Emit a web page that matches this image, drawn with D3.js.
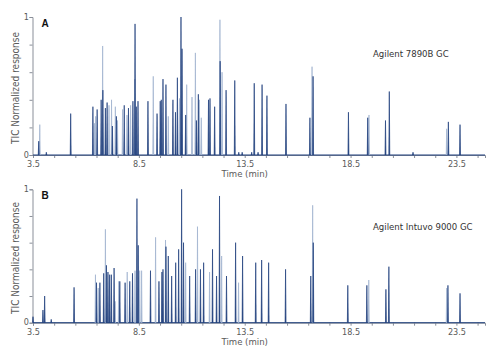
<!DOCTYPE html>
<html>
<head>
<meta charset="utf-8">
<script src="https://cdn.jsdelivr.net/npm/d3@7"></script>
<style>
  body { margin: 0; background: #fff; }
  svg { display: block; }
</style>
</head>
<body>
<div id="chart"></div>
<script>
// x axis labels (min) and panel texts
const timeTicks = [3.5, 8.5, 13.5, 18.5, 23.5];
const panelLabels = ["A", "B"];
const instruments = ["Agilent 7890B GC", "Agilent Intuvo 9000 GC"];

// peaks: [retention time (min), normalized response, shade 0 = dark / 1 = light]
const peaksA = [
  [3.77, 0.10, 0], [3.82, 0.22, 1], [4.13, 0.02, 0], [5.28, 0.30, 0],
  [6.33, 0.35, 0], [6.40, 0.23, 1], [6.46, 0.28, 1], [6.53, 0.33, 0],
  [6.72, 0.40, 0], [6.79, 0.79, 1], [6.80, 0.47, 0], [6.92, 0.34, 0],
  [7.00, 0.38, 0], [7.09, 0.36, 1], [7.21, 0.40, 1], [7.25, 0.21, 0],
  [7.39, 0.35, 1], [7.44, 0.28, 0], [7.49, 0.25, 1], [7.73, 0.33, 1],
  [7.81, 0.36, 0], [7.94, 0.29, 1], [8.01, 0.34, 0], [8.11, 0.36, 1],
  [8.22, 0.39, 0], [8.31, 0.55, 1], [8.32, 0.95, 0], [8.38, 0.35, 0],
  [8.46, 0.39, 0], [8.93, 0.39, 0], [9.18, 0.57, 1], [9.36, 0.30, 0],
  [9.51, 0.39, 0], [9.56, 0.40, 0], [9.64, 0.55, 0], [9.78, 0.51, 0],
  [9.89, 0.28, 1], [10.11, 0.40, 0], [10.23, 0.31, 0], [10.32, 0.56, 0],
  [10.42, 0.41, 1], [10.49, 1.00, 0], [10.54, 0.77, 0], [10.71, 0.29, 0],
  [10.76, 0.51, 1], [11.01, 0.42, 1], [11.17, 0.74, 1], [11.22, 0.25, 0],
  [11.31, 0.44, 0], [11.36, 0.40, 1], [11.45, 0.27, 1], [11.79, 0.40, 0],
  [11.86, 0.41, 0], [12.08, 0.35, 0], [12.33, 0.98, 1], [12.34, 0.68, 0],
  [12.43, 0.60, 1], [12.62, 0.47, 0], [13.03, 0.54, 0], [13.22, 0.02, 0],
  [13.38, 0.02, 0], [13.83, 0.02, 0], [13.95, 0.52, 0], [14.13, 0.02, 0],
  [14.32, 0.51, 0], [14.55, 0.43, 0], [15.45, 0.37, 0], [16.58, 0.27, 0],
  [16.68, 0.64, 1], [16.73, 0.57, 0], [18.40, 0.31, 0], [19.31, 0.27, 0],
  [19.37, 0.29, 1], [20.15, 0.25, 0], [20.33, 0.46, 0], [21.45, 0.02, 0],
  [23.04, 0.19, 1], [23.12, 0.24, 0], [23.67, 0.22, 0]
];

const peaksB = [
  [3.50, 0.045, 0], [3.97, 0.095, 0], [4.05, 0.20, 0], [4.36, 0.025, 0],
  [5.44, 0.265, 0], [6.45, 0.36, 1], [6.50, 0.30, 0], [6.58, 0.26, 1],
  [6.66, 0.30, 0], [6.84, 0.37, 0], [6.92, 0.70, 1], [6.97, 0.43, 0],
  [7.04, 0.38, 0], [7.12, 0.36, 0], [7.20, 0.36, 0], [7.33, 0.41, 0],
  [7.38, 0.16, 1], [7.55, 0.31, 1], [7.60, 0.31, 0], [7.85, 0.30, 0],
  [7.95, 0.38, 1], [8.07, 0.31, 0], [8.20, 0.37, 0], [8.32, 0.39, 1],
  [8.41, 0.93, 0], [8.47, 0.58, 0], [8.54, 0.39, 1], [8.63, 0.39, 1],
  [9.05, 0.39, 0], [9.29, 0.64, 1], [9.45, 0.31, 0], [9.59, 0.38, 0],
  [9.64, 0.40, 0], [9.76, 0.62, 1], [9.78, 0.57, 0], [9.89, 0.50, 0],
  [10.05, 0.35, 0], [10.24, 0.45, 0], [10.38, 0.55, 0], [10.52, 1.00, 0],
  [10.61, 0.60, 0], [10.71, 0.45, 1], [10.90, 0.35, 0], [11.18, 0.40, 0],
  [11.27, 0.72, 1], [11.41, 0.40, 0], [11.56, 0.45, 0], [11.84, 0.38, 1],
  [11.98, 0.55, 0], [12.17, 0.35, 0], [12.31, 0.95, 0], [12.41, 0.50, 1],
  [12.64, 0.35, 0], [13.07, 0.60, 0], [13.21, 0.30, 1], [13.40, 0.50, 0],
  [14.02, 0.45, 0], [14.30, 0.47, 0], [14.63, 0.45, 0], [15.43, 0.40, 0],
  [16.62, 0.35, 0], [16.71, 0.88, 1], [16.74, 0.60, 0], [18.37, 0.28, 0],
  [19.27, 0.28, 0], [19.36, 0.32, 1], [20.17, 0.25, 0], [20.31, 0.42, 0],
  [23.04, 0.26, 1], [23.10, 0.28, 0], [23.67, 0.22, 0]
];

const W = 500, H = 351;
const left = 33, right = 485;
const halfWidth = 0.022; // peak half base width in minutes
const darkBlue = "#1f3f7c", lightBlue = "#9fb2cf";
const axisGray = "#8a8f99", textGray = "#5a5a5a";
const fontCond = "'Liberation Sans Narrow','DejaVu Sans Condensed','Roboto',sans-serif";

const panels = [
  { peaks: peaksA, top: 17, bottom: 155, label: panelLabels[0], name: instruments[0], nameX: 373, nameY: 57 },
  { peaks: peaksB, top: 189.3, bottom: 322.7, label: panelLabels[1], name: instruments[1], nameX: 373, nameY: 230 }
];

const svg = d3.select("#chart").append("svg")
  .attr("width", W)
  .attr("height", H);

const x = d3.scaleLinear().domain([3.5, 24.85]).range([left, right]);

panels.forEach(p => {
  const y = d3.scaleLinear().domain([0, 1]).range([p.bottom, p.top]);
  const g = svg.append("g");

  // x axis: minor ticks each minute, labels every 5 min
  const xAxis = g.append("g")
    .attr("transform", `translate(0,${p.bottom})`)
    .call(d3.axisBottom(x)
      .tickValues(d3.range(3.5, 24.6, 1))
      .tickSize(3)
      .tickFormat(d => timeTicks.includes(d) ? d.toFixed(1) : ""));
  xAxis.select(".domain").attr("stroke", axisGray);
  xAxis.selectAll(".tick line").attr("stroke", axisGray);
  xAxis.selectAll("text")
    .attr("y", 6)
    .style("font-family", fontCond)
    .style("font-size", "9px")
    .attr("fill", textGray);

  // y axis
  const yAxis = g.append("g")
    .attr("transform", `translate(${left - 0.5},0)`)
    .call(d3.axisLeft(y)
      .tickValues([0, 0.2, 0.4, 0.6, 0.8, 1])
      .tickSize(3)
      .tickFormat(d => (d === 0 || d === 1) ? d : ""));
  yAxis.select(".domain").attr("stroke", axisGray);
  yAxis.selectAll(".tick line").attr("stroke", axisGray);
  yAxis.selectAll("text")
    .attr("x", -3.5)
    .attr("dy", "0.25em")
    .style("font-family", fontCond)
    .style("font-size", "9px")
    .attr("fill", textGray);

  // baseline of the trace
  g.append("line")
    .attr("x1", x(3.5)).attr("x2", right)
    .attr("y1", y(0)).attr("y2", y(0))
    .attr("stroke", darkBlue)
    .attr("stroke-width", 1);

  // peaks: light ones first, dark on top
  const line = d3.line().x(d => x(d[0])).y(d => y(d[1]));
  const sorted = p.peaks.slice().sort((a, b) => b[2] - a[2]);
  g.selectAll(".peak")
    .data(sorted)
    .enter().append("path")
    .attr("class", "peak")
    .attr("d", d => line([[d[0] - halfWidth, 0], [d[0], d[1]], [d[0] + halfWidth, 0]]))
    .attr("fill", d => d[2] ? lightBlue : darkBlue)
    .attr("stroke", d => d[2] ? lightBlue : darkBlue)
    .attr("stroke-width", 0.7)
    .attr("stroke-linejoin", "miter");

  // axis titles
  g.append("text")
    .attr("x", x(13.5))
    .attr("y", p.bottom + 22)
    .attr("text-anchor", "middle")
    .style("font-family", fontCond)
    .style("font-size", "9.5px")
    .attr("fill", textGray)
    .text("Time (min)");

  g.append("text")
    .attr("transform", `translate(18.5,${(p.top + p.bottom) / 2 + 2}) rotate(-90)`)
    .attr("text-anchor", "middle")
    .style("font-family", fontCond)
    .style("font-size", "10px")
    .attr("fill", textGray)
    .text("TIC Normalized response");

  // panel letter
  g.append("text")
    .attr("x", 41.5)
    .attr("y", p.top + 10)
    .style("font-family", "'Liberation Sans',Arial,sans-serif")
    .style("font-weight", "bold")
    .style("font-size", "10px")
    .attr("fill", "#111")
    .text(p.label);

  // instrument name
  g.append("text")
    .attr("x", p.nameX)
    .attr("y", p.nameY)
    .style("font-family", fontCond)
    .style("font-size", "9.5px")
    .attr("fill", "#333")
    .text(p.name);
});
</script>
</body>
</html>
